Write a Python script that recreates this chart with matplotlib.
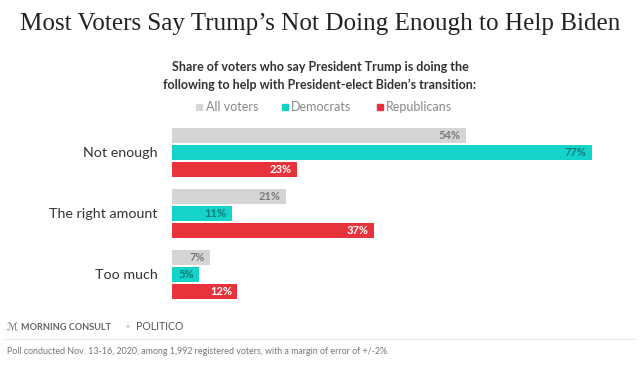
import matplotlib
matplotlib.use("Agg")
import matplotlib.pyplot as plt
from matplotlib.patches import Rectangle
from matplotlib.lines import Line2D

categories = ["Not enough", "The right amount", "Too much"]
series_names = ["All voters", "Democrats", "Republicans"]
all_voters = [54, 21, 7]
democrats = [77, 11, 5]
republicans = [23, 37, 12]

colors = ["#d5d5d5", "#14d3cb", "#e8323c"]
label_colors = ["#7a7a7a", "#137c78", "#ffffff"]

W, H = 640, 365
fig = plt.figure(figsize=(W / 100, H / 100), dpi=100)
fig.patch.set_facecolor("white")

def fx(px):
    return px / W

def fy(py):
    return 1 - py / H

ax = fig.add_axes([fx(172), fy(305), (600 - 172) / W, (305 - 120) / H])
ax.set_xlim(0, 77 * 428 / 419.7)
ax.set_ylim(2.5, -0.533)
ax.axis("off")

pitch = 17 / 61
bh = 15 / 61
for j, vals in enumerate([all_voters, democrats, republicans]):
    for g, v in enumerate(vals):
        y = g + (j - 1) * pitch
        ax.barh(y, v, height=bh, color=colors[j], edgecolor="none")
        ax.text(v - 1.0, y, f"{v}%", ha="right", va="center",
                fontsize=8, fontweight="bold", color=label_colors[j],
                family="Lato")

for g, c in enumerate(categories):
    ax.text(-2.6, g, c, ha="right", va="center", fontsize=10.3,
            color="#333333", family="Lato")

fig.text(0.5, fy(24), "Most Voters Say Trump\u2019s Not Doing Enough to Help Biden",
         ha="center", va="center", fontsize=18.1, family="Liberation Serif",
         color="#222222")
fig.text(0.5, fy(67), "Share of voters who say President Trump is doing the",
         ha="center", va="center", fontsize=9, fontweight="bold",
         family="Lato", color="#333333")
fig.text(0.5, fy(85), "following to help with President-elect Biden\u2019s transition:",
         ha="center", va="center", fontsize=9, fontweight="bold",
         family="Lato", color="#333333")

leg = [(196, 206, "All voters"), (282, 291, "Democrats"), (377, 386, "Republicans")]
for (sx, tx, name), col in zip(leg, colors):
    fig.patches.append(Rectangle((fx(sx), fy(110)), 6 / W, 6 / H,
                                 transform=fig.transFigure, color=col))
    fig.text(fx(tx), fy(107), name, ha="left", va="center", fontsize=9,
             family="Lato", color="#888888")

fig.text(fx(7), fy(327), "\u2133", ha="left", va="center", fontsize=7.5,
         color="#666666", family="DejaVu Sans")
fig.text(fx(21), fy(327), "MORNING CONSULT", ha="left", va="center", fontsize=6.6,
         fontweight="bold", color="#666666", family="Lato")
fig.text(fx(126), fy(327), "+", ha="left", va="center", fontsize=5,
         color="#999999", family="Lato")
fig.text(fx(136), fy(327), "POLITICO", ha="left", va="center", fontsize=7.6,
         color="#555555", family="Lato")

fig.lines.append(Line2D([fx(5), fx(635)], [fy(339), fy(339)],
                        transform=fig.transFigure, color="#e6e6e6", lw=0.8))
fig.text(fx(7), fy(352), "Poll conducted Nov. 13-16, 2020, among 1,992 registered voters, with a margin of error of +/-2%.",
         ha="left", va="center", fontsize=6.4, color="#777777", family="Lato")

fig.savefig("out.png", dpi=100, facecolor="white")
